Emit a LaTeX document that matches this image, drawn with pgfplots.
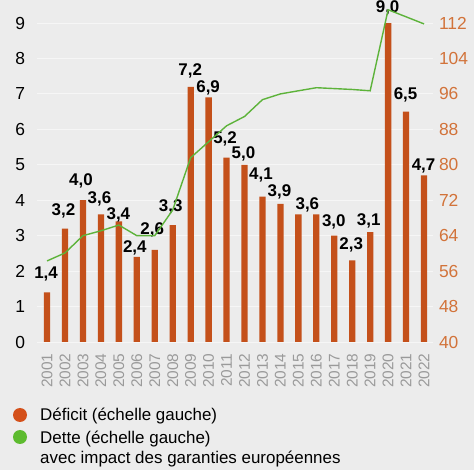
\documentclass[border=0pt]{standalone}
\usepackage{pgfplots}
\usepackage{pgfplotstable}
\pgfplotsset{compat=1.18}
\usepackage{fontspec}
\setmainfont{Liberation Sans}

\definecolor{bgcol}{HTML}{ECECEC}
\definecolor{gridcol}{HTML}{F6F6F6}
\definecolor{barcol}{HTML}{C4501A}
\definecolor{rightcol}{HTML}{D2733A}
\definecolor{linecol}{HTML}{5DB33A}
\definecolor{dotorange}{HTML}{D4501A}
\definecolor{dotgreen}{HTML}{5DBB2F}
\definecolor{yearcol}{HTML}{9A9A9A}

% Deficit (% of GDP), printed label, label offsets (dx, dy in bp)
\pgfplotstableread{
year deficit label dx dy
2001 1.4 1,4 -1 14
2002 3.2 3,2 -1.5 13
2003 4.0 4,0 -2 15
2004 3.6 3,6 -1.5 11
2005 3.4 3,4 -0.5 2
2006 2.4 2,4 -2 4
2007 2.6 2,6 -2.5 15
2008 3.3 3,3 -2 14
2009 7.2 7,2 -0.5 11
2010 6.9 6,9 -0.5 5
2011 5.2 5,2 -1.5 14
2012 5.0 5,0 -1 6.5
2013 4.1 4,1 -1.5 17
2014 3.9 3,9 -1 7
2015 3.6 3,6 9 4.6
2016 3.6 {} 0 4.6
2017 3.0 3,0 -0.5 9
2018 2.3 2,3 -1 11
2019 3.1 3,1 -1.5 7
2020 9.0 9,0 -0.5 11
2021 6.5 6,5 -0.5 12
2022 4.7 4,7 -0.5 5
}\deficit

% Debt (% of GDP)
\pgfplotstableread{
year debt
2001 58.3
2002 60.1
2003 64.0
2004 65.1
2005 66.4
2006 64.0
2007 64.0
2008 69.8
2009 81.6
2010 85.2
2011 88.8
2012 90.9
2013 94.7
2014 96.0
2015 96.7
2016 97.4
2017 97.2
2018 97.0
2019 96.7
2020 115.0
2021 113.4
2022 111.8
}\debt

\begin{document}
\begin{tikzpicture}
\fill[bgcol] (0,0) rectangle (474bp,470bp);
\useasboundingbox (0,0) rectangle (474bp,470bp);

% Deficit bars, left scale
\begin{axis}[
  at={(37bp,128bp)}, anchor=south west,
  scale only axis, width=396bp, height=336.7bp,
  xmin=2000.44, xmax=2022.5,
  ymin=0, ymax=9.5,
  ytick={0,1,...,9},
  xtick={2001,2002,...,2022},
  xticklabel style={rotate=90, anchor=east, font=\fontsize{15.5}{15.5}\selectfont, text=yearcol, xshift=-8bp},
  yticklabel style={font=\fontsize{17.5}{17.5}\selectfont, xshift=-8.5bp},
  /pgf/number format/assume math mode=true,
  /pgf/number format/1000 sep={},
  major tick length=0pt,
  axis line style={draw=none},
  ymajorgrids, major grid style={gridcol, line width=0.9bp},
  clip=false,
  ybar, bar width=6.3bp, bar shift=0pt,
]
\addplot[fill=barcol, draw=none,
  point meta=explicit symbolic,
  nodes near coords,
  visualization depends on={\thisrow{dx} \as \labdx},
  visualization depends on={\thisrow{dy} \as \labdy},
  every node near coord/.append style={font=\fontsize{17}{17}\selectfont\bfseries,
    anchor=base, xshift=\labdx bp, yshift=\labdy bp, text=black},
] table[x=year, y=deficit, meta=label] {\deficit};
\end{axis}

% Debt line, right scale
\begin{axis}[
  at={(37bp,128bp)}, anchor=south west,
  scale only axis, width=396bp, height=336.7bp,
  xmin=2000.44, xmax=2022.5,
  ymin=40, ymax=116,
  ytick={40,48,...,112},
  axis y line*=right,
  hide x axis,
  yticklabel style={font=\fontsize{17.5}{17.5}\selectfont, text=rightcol, xshift=2.5bp},
  /pgf/number format/assume math mode=true,
  major tick length=0pt,
  axis line style={draw=none},
  clip=false,
]
\addplot[linecol, line width=1.4bp, mark=none] table[x=year, y=debt] {\debt};
\end{axis}

% Legend
\fill[dotorange] (20bp,55bp) circle (7bp);
\fill[dotgreen] (20bp,33bp) circle (7bp);
\begin{scope}[every node/.style={anchor=base west, inner sep=0pt, font=\fontsize{17}{17}\selectfont}]
\node at (40bp,49bp) {Déficit (échelle gauche)};
\node at (40bp,27bp) {Dette (échelle gauche)};
\node at (40bp,7bp) {avec impact des garanties européennes};
\end{scope}
\end{tikzpicture}
\end{document}
